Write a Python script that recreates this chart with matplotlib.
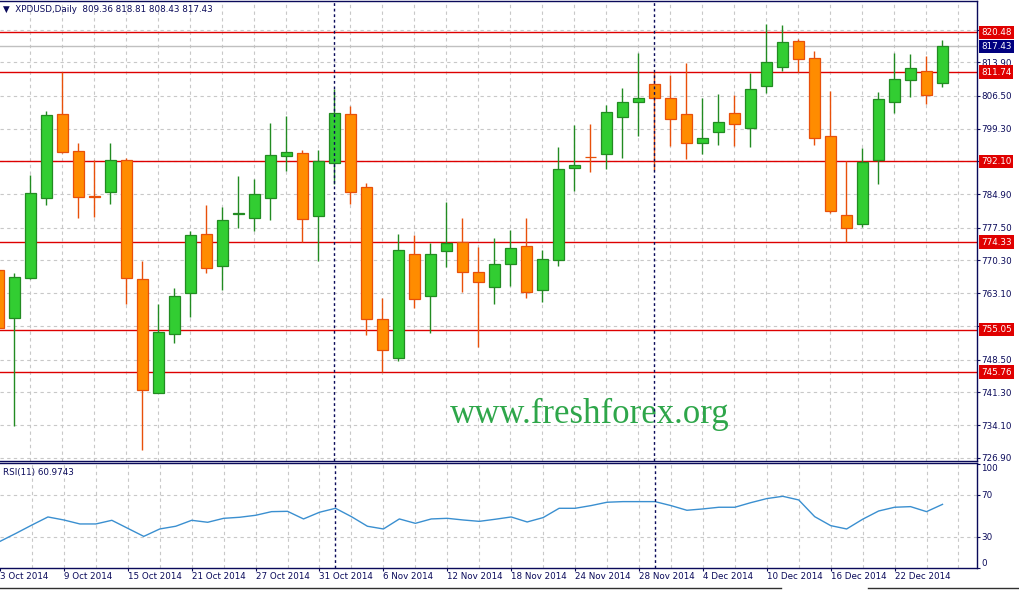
"""
XPDUSD daily candles (Oct - Dec 2014) with support/resistance levels and RSI(11),
redrawn in the MetaTrader look. Writes out.png.
"""
import numpy as np
import pandas as pd
import matplotlib
matplotlib.use("Agg")
import matplotlib.pyplot as plt
from matplotlib.lines import Line2D
from matplotlib.transforms import blended_transform_factory

# --- data: one bar per trading day, no Christmas bar ---
dates = pd.bdate_range("2014-10-03", "2014-12-26").drop(pd.Timestamp("2014-12-25"))

opens = [768.20, 757.57, 766.52, 784.12, 802.45, 794.31, 784.45, 785.44, 792.33, 766.15,
         741.07, 754.05, 763.07, 776.05, 769.01, 780.62, 779.57, 783.97, 793.21, 793.87,
         780.16, 791.67, 802.45, 786.39, 757.35, 748.92, 771.65, 762.56, 772.31, 774.29,
         767.69, 764.54, 769.45, 773.41, 763.88, 770.48, 790.57, 793.12, 793.65, 801.79,
         805.09, 809.06, 805.97, 802.45, 796.07, 798.49, 802.67, 799.52, 808.62, 812.94,
         818.59, 814.78, 797.61, 780.31, 778.40, 792.48, 805.24, 810.08, 811.92, 809.36]
highs = [770.00, 767.62, 789.11, 803.19, 811.70, 796.15, 792.33, 796.15, 792.92, 770.18,
         760.65, 764.17, 776.79, 782.51, 782.07, 788.89, 788.23, 800.55, 802.16, 794.53,
         794.61, 808.03, 804.36, 787.27, 762.04, 776.13, 775.91, 774.14, 783.09, 779.65,
         773.19, 775.32, 777.01, 779.72, 772.60, 795.27, 800.11, 800.33, 804.51, 808.25,
         815.95, 811.84, 811.11, 813.68, 806.12, 806.85, 806.71, 811.62, 822.33, 822.11,
         819.03, 816.39, 807.59, 792.19, 795.12, 807.29, 815.95, 815.73, 815.36, 818.81]
lows = [754.50, 733.95, 766.22, 782.51, 793.87, 779.72, 779.94, 782.80, 760.65, 728.53,
        741.07, 752.07, 757.94, 767.47, 763.80, 777.37, 776.79, 779.28, 789.99, 774.29,
        770.26, 787.13, 782.80, 753.90, 745.69, 748.25, 759.92, 754.42, 768.94, 763.44,
        751.34, 760.80, 764.76, 762.12, 761.09, 769.16, 785.66, 789.84, 790.43, 792.92,
        797.76, 790.13, 795.56, 792.63, 793.65, 795.71, 795.56, 795.34, 807.22, 812.06,
        811.70, 795.71, 780.82, 774.29, 777.66, 787.13, 802.82, 806.34, 804.80, 808.43]
closes = [755.37, 766.59, 785.07, 802.31, 794.24, 784.34, 784.34, 792.33, 766.37, 741.73,
          754.49, 762.41, 775.83, 768.57, 779.13, 780.67, 784.85, 793.43, 794.09, 779.35,
          792.11, 802.67, 785.44, 757.50, 750.53, 772.53, 761.75, 771.65, 774.14, 767.69,
          765.49, 769.45, 772.97, 763.29, 770.55, 790.35, 791.23, 793.07, 802.89, 805.09,
          805.97, 805.97, 801.50, 796.07, 797.17, 800.69, 800.25, 807.96, 813.90, 818.30,
          814.56, 797.32, 781.26, 777.37, 791.97, 805.75, 810.16, 812.58, 806.63, 817.43]
rsi = [25.5, 33.2, 41.2, 48.9, 46.0, 42.2, 42.2, 45.7, 38.0, 30.3,
       37.4, 40.0, 45.7, 43.8, 47.6, 48.6, 50.5, 54.0, 54.3, 47.0,
       53.4, 57.2, 49.2, 40.0, 37.4, 47.0, 42.8, 47.0, 47.6, 46.0,
       44.7, 46.7, 48.9, 44.1, 48.3, 57.2, 57.2, 59.8, 63.0, 63.6,
       63.6, 63.6, 59.8, 55.3, 56.6, 58.2, 58.2, 62.6, 66.5, 68.7,
       65.2, 49.2, 40.6, 37.4, 46.7, 54.6, 58.2, 58.8, 54.0, 60.9743]

levels = [820.48, 811.74, 792.10, 774.33, 755.05, 745.76]
price_ticks = [726.90, 734.10, 741.30, 748.50, 755.90, 763.10, 770.30, 777.50,
               784.90, 792.10, 799.30, 806.50, 813.90, 821.10]
rsi_ticks = [0, 30, 70, 100]

# --- style ---
NAVY = "#0a0a5a"
GRID = "#c8c8c8"
FS = 6.3
BULL, BULL_EDGE = "#32cd32", "#228b22"
BEAR, BEAR_EDGE = "#ff8c00", "#e8500a"

W, H = 1019, 591
fig = plt.figure(figsize=(W / 100, H / 100), dpi=100)
ax = fig.add_axes([0, (H - 461) / H, 977 / W, 460 / H])
axr = fig.add_axes([0, (H - 568) / H, 977 / W, 105 / H])

x = np.arange(len(opens))
o, h, l, c = map(np.array, (opens, highs, lows, closes))
up = c >= o
xlim = (0.094, 61.16)

for a in (ax, axr):
    a.set_xlim(*xlim)
    for xi in range(2, 62, 2):
        a.axvline(xi, color=GRID, lw=0.8, ls=(0, (3, 3)), zorder=0)
    for k in range(1, len(dates)):
        if dates[k].month != dates[k - 1].month:
            a.axvline(k, color=NAVY, lw=1, ls=(0, (2, 2)), zorder=6)
    a.spines["left"].set_visible(False)
    for s in ("top", "right", "bottom"):
        a.spines[s].set_color(NAVY)
        a.spines[s].set_linewidth(1)
    a.yaxis.tick_right()
    a.tick_params(axis="y", length=2, width=0.8, pad=1, colors=NAVY, labelsize=FS)

# --- price panel ---
ax.set_ylim(726.18, 827.39)
ax.set_yticks(price_ticks)
# tick labels sitting under a level box are hidden, as in the terminal
ax.set_yticklabels(["" if min(abs(t - lv) for lv in levels) < 1.2 else f"{t:.2f}"
                    for t in price_ticks])
ax.grid(axis="y", color=GRID, lw=0.8, ls=(0, (3, 3)), zorder=0)
ax.set_xticks([])
ax.axhline(closes[-1], color="#c0c0c0", lw=1, zorder=1)
for lv in levels:
    ax.axhline(lv, color="#dd0000", lw=1, zorder=2)

ax.vlines(x, l, h, colors=np.where(up, BULL_EDGE, BEAR_EDGE), lw=1, zorder=3)
ax.bar(x, np.abs(c - o), bottom=np.minimum(o, c), width=0.65,
       color=np.where(up, BULL, BEAR), edgecolor=np.where(up, BULL_EDGE, BEAR_EDGE),
       linewidth=0.9, zorder=4)

trans = blended_transform_factory(ax.transAxes, ax.transData)
for lv in levels:
    ax.text(1.004, lv, f"{lv:.2f}", transform=trans, ha="left", va="center",
            fontsize=FS, color="white", clip_on=False, zorder=10,
            bbox=dict(boxstyle="square,pad=0.25", fc="#e00000", ec="none"))
ax.text(1.004, closes[-1], f"{closes[-1]:.2f}", transform=trans, ha="left", va="center",
        fontsize=FS, color="white", clip_on=False, zorder=10,
        bbox=dict(boxstyle="square,pad=0.25", fc="#000080", ec="none"))

ax.text(0.604, 0.083, "www.freshforex.org", transform=ax.transAxes, ha="center",
        va="baseline", fontsize=25, family="Liberation Serif", color="#2ea64a", zorder=5)

fig.text(3 / W, 1 - 10 / H,
         f"\u25bc  XPDUSD,Daily  {opens[-1]:.2f} {highs[-1]:.2f} {lows[-1]:.2f} {closes[-1]:.2f}",
         ha="left", va="center", fontsize=FS, color=NAVY)

# --- RSI panel ---
axr.plot(x, rsi, color="#3a8fd0", lw=1, zorder=3)
axr.set_ylim(0, 100.6)
axr.set_yticks(rsi_ticks)
axr.set_yticklabels([str(t) for t in rsi_ticks])
axr.get_yticklabels()[0].set_va("bottom")
axr.get_yticklabels()[-1].set_va("top")
for lv in (30, 70):
    axr.axhline(lv, color=GRID, lw=0.8, ls=(0, (3, 3)), zorder=0)
lab_idx = list(range(0, len(dates), 4))
axr.set_xticks(lab_idx)
axr.set_xticklabels([f"{dates[k].day} {dates[k]:%b %Y}" for k in lab_idx], ha="left")
axr.tick_params(axis="x", length=2, width=0.8, pad=1, colors=NAVY, labelsize=FS)
axr.text(3 / 977, 0.91, f"RSI(11) {rsi[-1]:.4f}", transform=axr.transAxes,
         ha="left", va="center", fontsize=FS, color=NAVY)

# status strip at the bottom
yb = 1 - 588 / H
fig.add_artist(Line2D([0, 781 / W], [yb, yb], color="#303030", lw=1))
fig.add_artist(Line2D([868 / W, 1], [yb, yb], color="#303030", lw=1))

fig.savefig("out.png", dpi=100)
